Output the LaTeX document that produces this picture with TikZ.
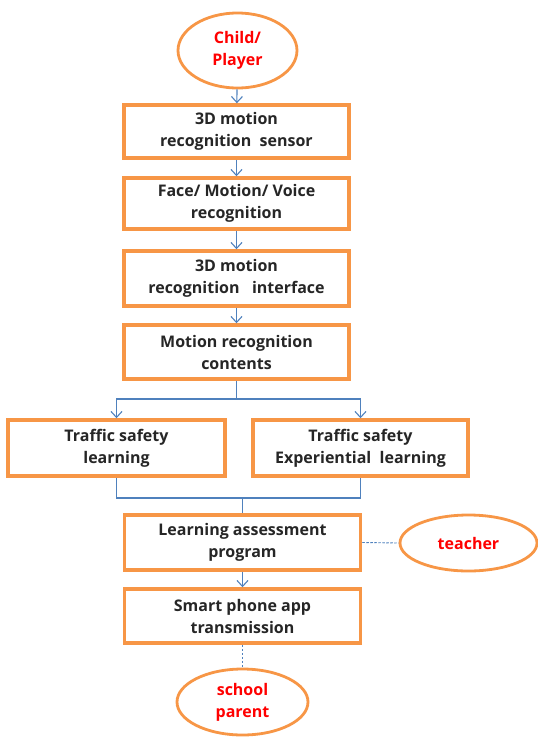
\documentclass[tikz,border=0pt]{standalone}
\usepackage{fontspec}
\setmainfont{Open Sans}[BoldFont={* Bold}]
\usetikzlibrary{arrows.meta,shapes.geometric}
\definecolor{orng}{RGB}{247,150,70}
\definecolor{blu}{RGB}{79,129,189}
\definecolor{rd}{RGB}{255,0,0}
\begin{document}
\begin{tikzpicture}[x=1pt,y=-1pt,
  box/.style={draw=orng,line width=3.5pt,fill=white,inner sep=0pt,align=center,
    font=\fontsize{16}{22}\selectfont\bfseries,text=black!85},
  oval/.style={ellipse,draw=orng,line width=2.8pt,fill=white,inner sep=0pt,align=center,
    font=\fontsize{16}{22}\selectfont\bfseries,text=rd},
  conn/.style={draw=blu,line width=1.1pt},
  arr/.style={conn,-{Straight Barb[length=6pt,width=11pt,line width=1.1pt]}},
  dsh/.style={draw=blu,line width=0.9pt,dash pattern=on 2.5pt off 1.5pt}]
\useasboundingbox (0,0) rectangle (538,737);
\node[oval,minimum width=119pt,minimum height=75pt] (child) at (237.5,50.5) {Child/\\Player};
\node[box,minimum width=225pt,minimum height=53pt] (b1) at (236.5,131.5) {3D motion\\recognition\ \ sensor};
\node[box,minimum width=225pt,minimum height=51pt] (b2) at (236.5,203.5) {Face/ Motion/ Voice\\recognition};
\node[box,minimum width=225pt,minimum height=55pt] (b3) at (236.5,278.5) {3D motion\\recognition\ \ \ interface};
\node[box,minimum width=225pt,minimum height=54pt] (b4) at (236.5,352) {Motion recognition\\contents};
\node[box,minimum width=217pt,minimum height=56pt] (L) at (116.5,448) {Traffic safety\\learning};
\node[box,minimum width=215pt,minimum height=56pt] (R) at (360.5,448) {Traffic safety\\Experiential\ \ learning};
\node[box,minimum width=236pt,minimum height=55pt] (A) at (242.5,542.5) {Learning assessment\\program};
\node[box,minimum width=236pt,minimum height=54pt] (S) at (242.5,616) {Smart phone app\\transmission};
\node[oval,minimum width=137pt,minimum height=56pt] (T) at (468.5,543) {teacher};
\node[oval,minimum width=131pt,minimum height=66pt] (P) at (242.5,702) {school\\parent};
\coordinate (sp) at (236.5,399);
\coordinate (mg) at (242.5,498);
\draw[arr] (child) -- (b1);
\draw[arr] (b1) -- (b2);
\draw[arr] (b2) -- (b3);
\draw[arr] (b3) -- (b4);
\draw[conn] (b4.south) -- (sp);
\draw[arr] (sp) -| (L.north);
\draw[arr] (sp) -| (R.north);
\draw[conn] (L.south) |- (mg);
\draw[conn] (R.south) |- (mg);
\draw[conn] (mg) -- (A.north);
\draw[arr] (A) -- (S);
\draw[dsh] (A.east) -- (T.west);
\draw[dsh] (S.south) -- (P.north);
\end{tikzpicture}
\end{document}
